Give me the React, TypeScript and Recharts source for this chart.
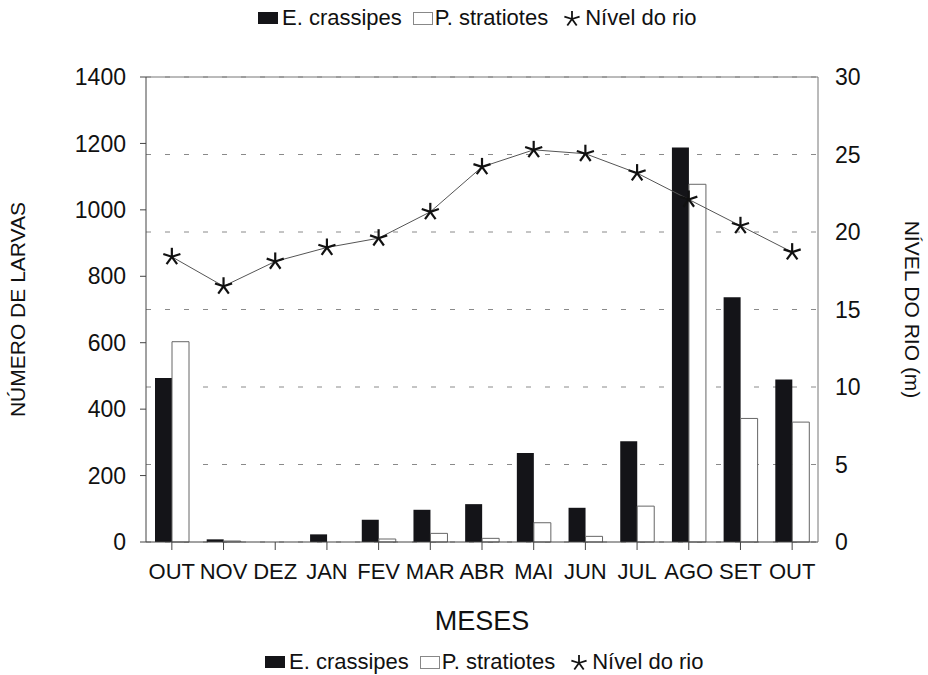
import React from "react";
import {
  ComposedChart,
  Bar,
  Line,
  XAxis,
  YAxis,
  CartesianGrid,
  ReferenceLine,
} from "recharts";

const months = ["OUT", "NOV", "DEZ", "JAN", "FEV", "MAR", "ABR", "MAI", "JUN", "JUL", "AGO", "SET", "OUT"];
const eCrassipes = [494, 8, 0, 23, 67, 97, 114, 268, 103, 303, 1188, 737, 489];
const pStratiotes = [603, 3, 0, 0, 9, 26, 11, 58, 17, 108, 1077, 372, 361];
const nivelRio = [18.4, 16.5, 18.1, 19.0, 19.6, 21.3, 24.2, 25.3, 25.05, 23.8, 22.1, 20.4, 18.7];

const larvaTicks = [0, 200, 400, 600, 800, 1000, 1200, 1400];
const rioTicks = [0, 5, 10, 15, 20, 25, 30];

const FONT = "'Liberation Sans', Arial, Helvetica, sans-serif";

const data = months.map((m, i) => ({
  month: m,
  ec: eCrassipes[i],
  ps: pStratiotes[i],
  rio: nivelRio[i],
}));

// 5-armed asterisk, like the Excel star marker in the original
function Star({ cx, cy, r = 9, sw = 2.2 }: { cx: number; cy: number; r?: number; sw?: number }) {
  const arms = [90, 18, 162, 234, 306].map((deg) => {
    const a = (deg * Math.PI) / 180;
    return { x: cx + r * Math.cos(a), y: cy - r * Math.sin(a) };
  });
  return (
    <g>
      {arms.map((p, i) => (
        <line key={i} x1={cx} y1={cy} x2={p.x} y2={p.y} stroke="#111" strokeWidth={sw} />
      ))}
    </g>
  );
}

function LegendRow({ left, top }: { left: number; top: number }) {
  const text: React.CSSProperties = { fontSize: 22, color: "#111", lineHeight: "24px" };
  return (
    <div
      style={{
        position: "absolute",
        left,
        top,
        display: "flex",
        alignItems: "center",
        fontFamily: FONT,
        whiteSpace: "nowrap",
      }}
    >
      <span style={{ width: 20, height: 12, background: "#141418", marginRight: 4 }} />
      <span style={text}>E. crassipes</span>
      <span
        style={{
          width: 18,
          height: 11,
          border: "1px solid #888",
          background: "#fff",
          marginLeft: 11,
          marginRight: 2,
        }}
      />
      <span style={text}>P. stratiotes</span>
      <svg width={20} height={20} style={{ marginLeft: 14, marginRight: 3 }}>
        <Star cx={10} cy={11} r={8} sw={1.8} />
      </svg>
      <span style={text}>Nível do rio</span>
    </div>
  );
}

export default function App() {
  return (
    <div style={{ position: "absolute", left: 0, top: 0, width: 928, height: 675, background: "#fff" }}>
      <ComposedChart
        width={928}
        height={675}
        data={data}
        margin={{ top: 77, right: 0, bottom: 0, left: 0 }}
        barGap={0}
        style={{ fontFamily: FONT }}
      >
        <CartesianGrid
          yAxisId="right"
          vertical={false}
          stroke="#8a8a8a"
          strokeDasharray="5 14"
        />
        <XAxis
          dataKey="month"
          height={133}
          tickSize={8}
          tickMargin={13}
          interval={0}
          axisLine={{ stroke: "#444" }}
          tickLine={{ stroke: "#444" }}
          tick={{ fontSize: 22, fill: "#111" }}
          label={{
            value: "MESES",
            position: "insideBottom",
            offset: 45,
            style: { fontSize: 27, fill: "#111" },
          }}
        />
        <YAxis
          yAxisId="left"
          width={146}
          domain={[0, 1400]}
          ticks={larvaTicks}
          interval={0}
          tickSize={6}
          tickMargin={14}
          axisLine={{ stroke: "#444" }}
          tickLine={{ stroke: "#444" }}
          tick={{ fontSize: 23, fill: "#111" }}
          label={{
            value: "NÚMERO DE LARVAS",
            angle: -90,
            position: "insideLeft",
            offset: 18,
            style: { fontSize: 21, fill: "#111", textAnchor: "middle" },
          }}
        />
        <YAxis
          yAxisId="right"
          orientation="right"
          width={110}
          domain={[0, 30]}
          ticks={rioTicks}
          interval={0}
          tickLine={false}
          tickMargin={11}
          axisLine={{ stroke: "#777" }}
          tick={{ fontSize: 23, fill: "#111", textAnchor: "start" }}
          label={{
            value: "NÍVEL DO RIO (m)",
            angle: 90,
            position: "insideRight",
            offset: 16,
            style: { fontSize: 21, fill: "#111", textAnchor: "middle" },
          }}
        />
        <ReferenceLine yAxisId="left" y={1400} stroke="#777" />
        <Bar
          yAxisId="left"
          dataKey="ec"
          name="E. crassipes"
          fill="#141418"
          barSize={17}
          isAnimationActive={false}
        />
        <Bar
          yAxisId="left"
          dataKey="ps"
          name="P. stratiotes"
          fill="#fff"
          stroke="#666"
          strokeWidth={1}
          barSize={17}
          isAnimationActive={false}
        />
        <Line
          yAxisId="right"
          dataKey="rio"
          name="Nível do rio"
          type="linear"
          stroke="#555"
          strokeWidth={1}
          dot={(p: any) => <Star key={`s${p.index}`} cx={p.cx} cy={p.cy} />}
          activeDot={false}
          isAnimationActive={false}
        />
      </ComposedChart>
      <LegendRow left={258} top={6} />
      <LegendRow left={265} top={650} />
    </div>
  );
}
